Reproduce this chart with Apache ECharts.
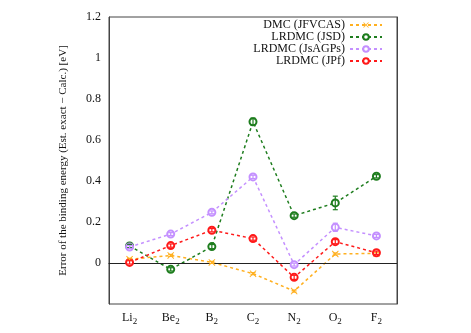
<!DOCTYPE html>
<html>
<head>
<meta charset="utf-8">
<script src="https://cdn.jsdelivr.net/npm/echarts@6/dist/echarts.min.js"></script>
<style>
  html, body { margin: 0; padding: 0; background: #fff; }
  #main { width: 471px; height: 333px; }
</style>
</head>
<body>
<div id="main"></div>
<script>
var myChart = echarts.init(document.getElementById('main'));

// molecules (subscript handled in the label formatter)
var molecules = ['Li', 'Be', 'B', 'C', 'N', 'O', 'F'];

var seriesNames = ['DMC (JFVCAS)', 'LRDMC (JSD)', 'LRDMC (JsAGPs)', 'LRDMC (JPf)'];
var seriesColors = ['#ffb020', '#1e7d1e', '#c490ff', '#ff1a1a'];

// error of the binding energy [eV]
var dmcJFVCAS   = [0.018, 0.037, 0.003, -0.052, -0.137, 0.044, 0.047];
var lrdmcJSD    = [0.083, -0.031, 0.080, 0.689, 0.231, 0.293, 0.423];
var lrdmcJsAGPs = [0.078, 0.141, 0.247, 0.420, -0.008, 0.174, 0.132];
var lrdmcJPf    = [0.003, 0.085, 0.160, 0.119, -0.070, 0.104, 0.050];

// statistical error bars
var errDMC    = [0.005, 0.005, 0.005, 0.005, 0.005, 0.005, 0.005];
var errJSD    = [0.008, 0.008, 0.010, 0.018, 0.008, 0.033, 0.008];
var errJsAGPs = [0.007, 0.007, 0.007, 0.008, 0.007, 0.020, 0.007];
var errJPf    = [0.008, 0.008, 0.008, 0.008, 0.010, 0.010, 0.008];

var allValues = [dmcJFVCAS, lrdmcJSD, lrdmcJsAGPs, lrdmcJPf];
var allErrors = [errDMC, errJSD, errJsAGPs, errJPf];

var crossSymbol = 'path://M0,1L1,0L5,4L9,0L10,1L6,5L10,9L9,10L5,6L1,10L0,9L4,5Z';
var fontFam = '"Liberation Serif", "DejaVu Serif", serif';

var series = [];
var legends = [];
for (var i = 0; i < 4; i++) {
    series.push({
        name: seriesNames[i],
        type: 'line',
        data: allValues[i],
        symbol: i === 0 ? crossSymbol : 'emptyCircle',
        symbolSize: 7,
        showAllSymbol: true,
        lineStyle: { color: seriesColors[i], width: 1.5, type: [3, 3] },
        itemStyle: { color: seriesColors[i], borderColor: seriesColors[i], borderWidth: i === 0 ? 0 : 1.4 },
        z: 3 + i,
        markLine: i === 0 ? {
            silent: true,
            symbol: 'none',
            label: { show: false },
            lineStyle: { color: '#222', width: 1, type: 'solid' },
            data: [{ yAxis: 0 }]
        } : undefined
    });
    // error bars
    (function (k) {
        series.push({
            type: 'custom',
            silent: true,
            z: 10 + k,
            data: allValues[k].map(function (v, j) { return [j, v - allErrors[k][j], v + allErrors[k][j]]; }),
            renderItem: function (params, api) {
                var lo = api.coord([api.value(0), api.value(1)]);
                var hi = api.coord([api.value(0), api.value(2)]);
                var c = seriesColors[k];
                return {
                    type: 'group',
                    children: [
                        { type: 'line', shape: { x1: lo[0], y1: lo[1], x2: hi[0], y2: hi[1] }, style: { stroke: c, lineWidth: 1.2 } },
                        { type: 'line', shape: { x1: lo[0] - 2.5, y1: lo[1], x2: lo[0] + 2.5, y2: lo[1] }, style: { stroke: c, lineWidth: 1.2 } },
                        { type: 'line', shape: { x1: hi[0] - 2.5, y1: hi[1], x2: hi[0] + 2.5, y2: hi[1] }, style: { stroke: c, lineWidth: 1.2 } }
                    ]
                };
            }
        });
    })(i);
    legends.push({
        data: [seriesNames[i]],
        right: 88,
        top: 19 + i * 12,
        align: 'right',
        itemWidth: 32,
        itemHeight: 7,
        padding: 0,
        selectedMode: false,
        textStyle: { fontFamily: fontFam, fontSize: 12, color: '#111' }
    });
}

option = {
    animation: false,
    backgroundColor: '#fff',
    legend: legends,
    grid: {
        left: 109, right: 74, top: 17, bottom: 29,
        show: true, borderColor: '#444', borderWidth: 1
    },
    xAxis: [{
        type: 'category',
        data: molecules,
        boundaryGap: true,
        axisLine: { lineStyle: { color: '#444' } },
        axisTick: { inside: true, alignWithLabel: true, length: 4, lineStyle: { color: '#888' } },
        axisLabel: {
            interval: 0,
            margin: 6,
            formatter: function (v) { return '{n|' + v + '}{s|2}'; },
            rich: {
                n: { fontFamily: fontFam, fontSize: 12, color: '#111' },
                s: { fontFamily: fontFam, fontSize: 9, color: '#111', padding: [7, 0, 0, 0] }
            }
        }
    }, {
        type: 'category',
        position: 'top',
        data: molecules,
        boundaryGap: true,
        axisLine: { lineStyle: { color: '#444' } },
        axisTick: { inside: true, alignWithLabel: true, interval: 0, length: 4, lineStyle: { color: '#888' } },
        axisLabel: { show: false }
    }],
    yAxis: [{
        type: 'value',
        min: -0.2, max: 1.2, interval: 0.2,
        name: 'Error of the binding energy (Est. exact \u2212 Calc.) [eV]',
        nameLocation: 'middle',
        nameGap: 40,
        nameTextStyle: { fontFamily: fontFam, fontSize: 11, color: '#111' },
        axisLine: { show: true, lineStyle: { color: '#444' } },
        axisTick: { inside: true, length: 4, lineStyle: { color: '#888' } },
        splitLine: { show: false },
        axisLabel: {
            showMinLabel: false,
            margin: 8,
            fontFamily: fontFam, fontSize: 12, color: '#111'
        }
    }, {
        type: 'value',
        position: 'right',
        min: -0.2, max: 1.2, interval: 0.2,
        axisLine: { show: true, lineStyle: { color: '#444' } },
        axisTick: { inside: true, length: 4, lineStyle: { color: '#888' } },
        splitLine: { show: false },
        axisLabel: { show: false }
    }],
    series: series
};

myChart.setOption(option);
</script>
</body>
</html>
